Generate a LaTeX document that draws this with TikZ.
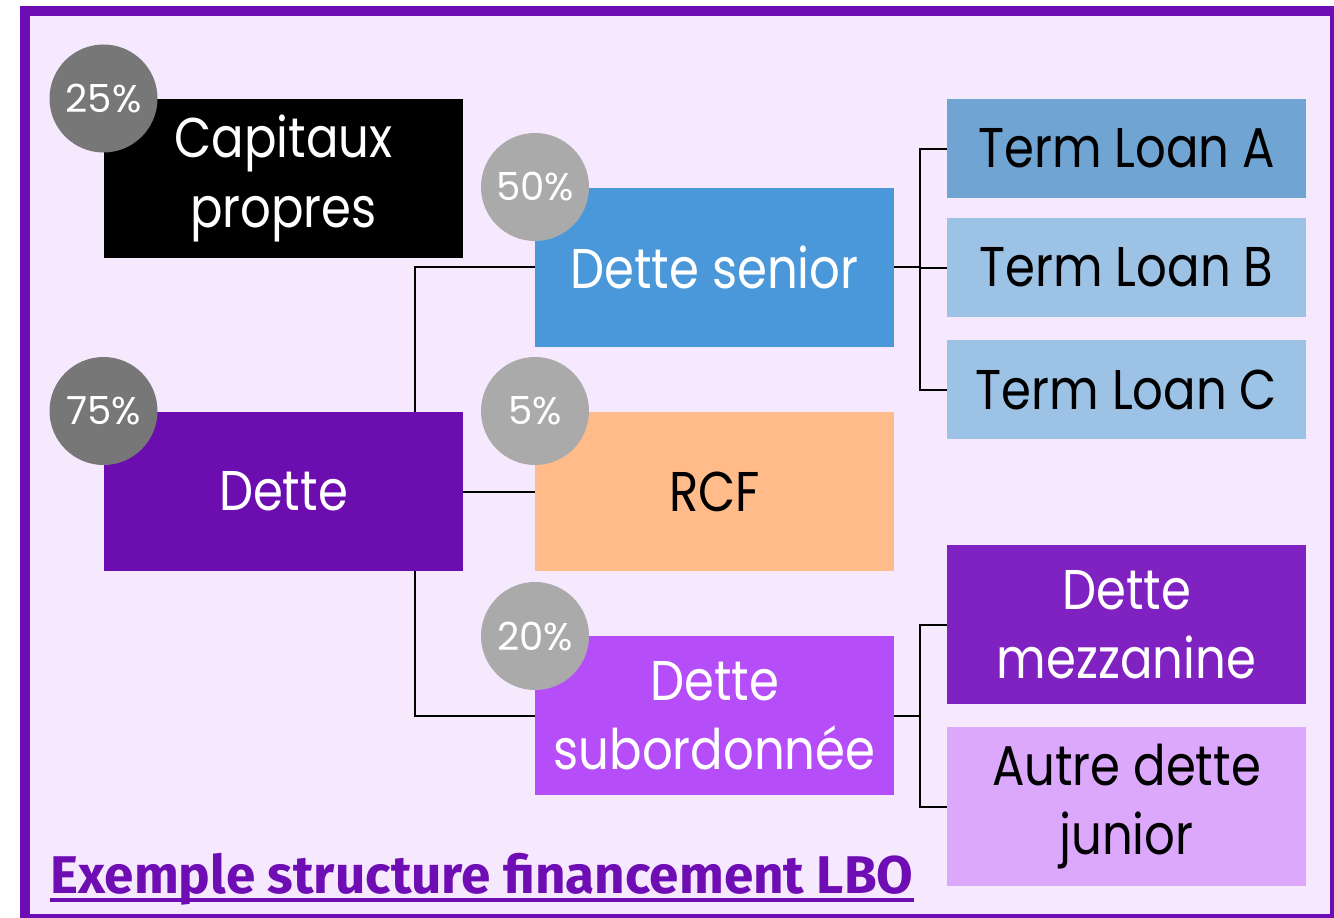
\documentclass[tikz,border=0pt]{standalone}
\usepackage{fontspec}
\setmainfont{Poppins}[FakeStretch=0.86]
\newfontfamily\pctfont{Poppins}
\newfontfamily\titlefont{Fira Sans}[BoldFont={* Bold}]
\definecolor{bgc}{HTML}{F6E9FD}
\definecolor{framec}{HTML}{6E0DB3}
\definecolor{darkg}{HTML}{777777}
\definecolor{lightg}{HTML}{AAAAAA}
\definecolor{seniorc}{HTML}{4A98D9}
\definecolor{dettec}{HTML}{6C0DB0}
\definecolor{rcfc}{HTML}{FFBC8A}
\definecolor{subc}{HTML}{B54EF9}
\definecolor{tlac}{HTML}{70A5D3}
\definecolor{tlbc}{HTML}{9CC2E5}
\definecolor{mezzc}{HTML}{8022C2}
\definecolor{autrec}{HTML}{DCA8FC}
\begin{document}
\begin{tikzpicture}[x=0.75pt,y=-0.75pt,
  box/.style={rectangle,inner sep=0pt,align=center,font=\fontsize{42}{52}\selectfont,
    minimum width=359*0.75pt,minimum height=159*0.75pt},
  smallbox/.style={box,minimum height=99*0.75pt},
  pct/.style={circle,inner sep=0pt,minimum size=108*0.75pt,text=white,font=\pctfont\fontsize{29}{36}\selectfont},
  link/.style={draw=black,line width=1.5pt}]
\useasboundingbox (0,0) rectangle (1334,917);
\fill[white] (0,0) rectangle (1334,917);
\begin{scope}
\clip (0,0) rectangle (1334,917);
\draw[fill=bgc,draw=framec,line width=7.5pt] (24.5,11) rectangle (1335,919);
\end{scope}
% boxes
\node[box,fill=black,text=white] (cap) at (283.5,178.5) {Capitaux\\propres};
\node[box,fill=seniorc,text=white] (senior) at (714.5,267) {Dette senior};
\node[box,fill=dettec,text=white] (dette) at (283.5,491.5) {Dette};
\node[box,fill=rcfc,text=black] (rcf) at (714.5,491.5) {RCF};
\node[box,fill=subc,text=white] (sub) at (714.5,715.5) {Dette\\subordonnée};
\node[smallbox,fill=tlac,text=black] (tla) at (1126.5,148.5) {Term Loan A};
\node[smallbox,fill=tlbc,text=black] (tlb) at (1126.5,267.5) {Term Loan B};
\node[smallbox,fill=tlbc,text=black] (tlc) at (1126.5,389.5) {Term Loan C};
\node[box,fill=mezzc,text=white] (mezz) at (1126.5,624.5) {Dette\\mezzanine};
\node[box,fill=autrec,text=black] (autre) at (1126.5,806.5) {Autre dette\\junior};
% percentage circles
\node[pct,fill=darkg] (p25) at (103.5,98.5) {25\%};
\node[pct,fill=lightg] (p50) at (535,187) {50\%};
\node[pct,fill=darkg] (p75) at (103.5,411) {75\%};
\node[pct,fill=lightg] (p5) at (535,411) {5\%};
\node[pct,fill=lightg] (p20) at (535,636) {20\%};
% connectors
\coordinate (j1) at (415,0);
\coordinate (j2) at (920,0);
\draw[link] (j1 |- dette.north) |- (senior.west);
\draw[link] (j1 |- dette.south) |- (sub.west);
\draw[link] (dette.east) -- (rcf.west);
\draw[link] (senior.east) -- (senior.east -| j2);
\draw[link] (tla.west) -| (j2 |- tlc.west) -- (tlc.west);
\draw[link] (j2 |- tlb.west) -- (tlb.west);
\draw[link] (sub.east) -- (sub.east -| j2);
\draw[link] (mezz.west) -| (j2 |- autre.west) -- (autre.west);
% title
\node[anchor=base west,inner sep=0pt,text=framec,font=\titlefont\bfseries\fontsize{39.8}{44}\selectfont] (title) at (50,893) {Exemple structure financement LBO};
\draw[framec,line width=3pt] ([yshift=-5pt]title.base west) -- ([yshift=-5pt]title.base east);
\end{tikzpicture}
\end{document}
